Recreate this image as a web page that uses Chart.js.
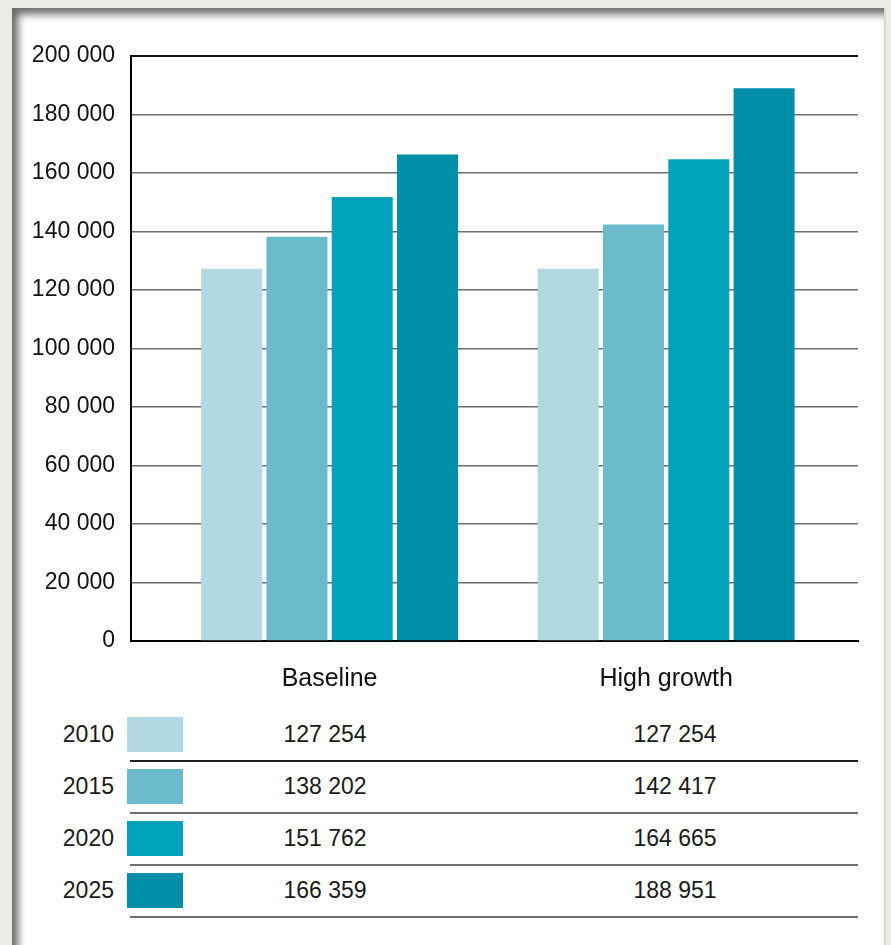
<!DOCTYPE html>
<html>
<head>
<meta charset="utf-8">
<script src="https://cdn.jsdelivr.net/npm/chart.js@4.4.1/dist/chart.umd.min.js"></script>
<style>
    body {
        margin: 0;
        width: 891px;
        height: 945px;
        background: #ecece7;
        font-family: "Liberation Sans", Arial, sans-serif;
        overflow: hidden;
        position: relative;
    }
    #panel {
        position: absolute;
        left: 12px;
        top: 8px;
        width: 872px;
        height: 950px;
        background: #fff;
        box-shadow: inset 6px 6px 9px rgba(0, 0, 0, 0.6);
        border-right: 2px solid #d9d9d5;
    }
    #chart {
        position: absolute;
        left: 0;
        top: 0;
    }
    .cell {
        position: absolute;
        font-size: 23px;
        color: #1a1a1a;
        line-height: 26px;
        white-space: nowrap;
    }
    .swatch, .rule {
        position: absolute;
    }
</style>
</head>
<body>
<div id="panel"></div>
<canvas id="chart" width="891" height="700"></canvas>
<div id="table"></div>

<script>
    // data (values as printed in the table)
    const categories = ['Baseline', 'High growth'];
    const years = ['2010', '2015', '2020', '2025'];
    const baseline = [127254, 138202, 151762, 166359];
    const highGrowth = [127254, 142417, 164665, 188951];
    const yTicks = [0, 20000, 40000, 60000, 80000, 100000, 120000, 140000, 160000, 180000, 200000];
    const colors = ['#b2d9e2', '#6bbbcd', '#00a3bb', '#008fa9'];

    function fmt(v) {
        return v.toString().replace(/\B(?=(\d{3})+(?!\d))/g, ' ');
    }

    const datasets = years.map((yr, i) => ({
        label: yr,
        data: [{x: 0, y: baseline[i]}, {x: 1, y: highGrowth[i]}],
        backgroundColor: colors[i],
        borderWidth: 0,
        categoryPercentage: 0.776,
        barPercentage: 0.935
    }));

    new Chart(document.getElementById('chart'), {
        type: 'bar',
        data: {datasets: datasets},
        options: {
            responsive: false,
            animation: false,
            layout: {padding: {top: 56, right: 33, left: 0, bottom: 0}},
            plugins: {legend: {display: false}, tooltip: {enabled: false}},
            scales: {
                x: {
                    type: 'linear',
                    offset: false,
                    min: -0.59,
                    max: 1.57,
                    afterBuildTicks: axis => {
                        axis.ticks = categories.map((c, i) => ({value: i}));
                    },
                    afterFit: scale => { scale.height = 59; },
                    ticks: {
                        callback: v => categories[v],
                        color: '#111',
                        font: {family: 'Liberation Sans', size: 25},
                        padding: 23,
                        maxRotation: 0
                    },
                    grid: {display: false, drawTicks: false, offset: false},
                    border: {display: true, color: '#000', width: 2}
                },
                y: {
                    min: 0,
                    max: 200000,
                    afterBuildTicks: axis => {
                        axis.ticks = yTicks.map(v => ({value: v}));
                    },
                    afterFit: scale => { scale.width = 131; },
                    ticks: {
                        callback: v => fmt(v),
                        color: '#111',
                        font: {family: 'Liberation Sans', size: 23},
                        padding: 16
                    },
                    grid: {
                        drawTicks: false,
                        color: ctx => ctx.tick && ctx.tick.value === 200000 ? '#111' : '#6e6e6e',
                        lineWidth: ctx => ctx.tick && ctx.tick.value === 200000 ? 2 : 1.5
                    },
                    border: {display: true, color: '#000', width: 2}
                }
            }
        }
    });

    // data table under the chart
    const table = document.getElementById('table');
    const rowTop = 717, rowStep = 52;
    years.forEach((yr, i) => {
        const top = rowTop + i * rowStep;
        table.insertAdjacentHTML('beforeend',
            `<div class="cell" style="left:0;width:114px;text-align:right;top:${top + 4}px">${yr}</div>` +
            `<div class="swatch" style="left:127px;top:${top}px;width:56px;height:35px;background:${colors[i]}"></div>` +
            `<div class="cell" style="left:225px;width:200px;text-align:center;top:${top + 4}px">${fmt(baseline[i])}</div>` +
            `<div class="cell" style="left:575px;width:200px;text-align:center;top:${top + 4}px">${fmt(highGrowth[i])}</div>` +
            `<div class="rule" style="left:130px;top:${top + 43}px;width:728px;height:2px;background:${i === 0 ? '#222' : '#6e6e6e'}"></div>`);
    });
</script>
</body>
</html>
